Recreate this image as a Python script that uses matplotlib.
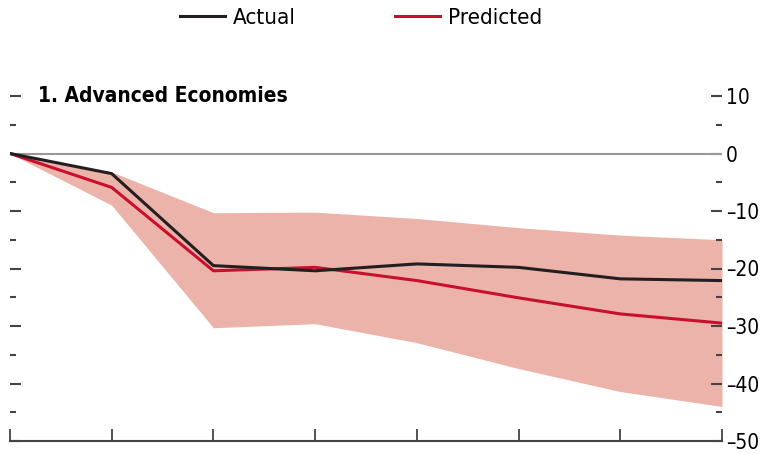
import numpy as np
import matplotlib
matplotlib.use("Agg")
import matplotlib.pyplot as plt
from matplotlib.ticker import MultipleLocator, FuncFormatter

plt.rcParams['font.family'] = ['Liberation Sans Narrow', 'DejaVu Sans']
plt.rcParams['font.stretch'] = 'condensed'

# data (8 periods, index 0..7)
periods = [0, 1, 2, 3, 4, 5, 6, 7]
actual = [0, -3.5, -19.5, -20.4, -19.2, -19.8, -21.8, -22.1]
predicted = [0, -5.9, -20.4, -19.8, -22.1, -25.1, -27.9, -29.5]
band_upper = [0, -3.2, -10.3, -10.2, -11.3, -12.9, -14.2, -15.0]
band_lower = [0, -9.0, -30.3, -29.6, -32.9, -37.4, -41.4, -44.0]

title = "1. Advanced Economies"

black = "#231f20"
red = "#c8102e"
band = "#ebb3a9"
tickcol = "#444444"

fig = plt.figure(figsize=(7.67, 4.54), dpi=100)
ax = fig.add_axes([10/767, 1 - 441/454, 712/767, 345/454])

ax.fill_between(periods, band_lower, band_upper, color=band, linewidth=0, zorder=1)
ax.axhline(0, color="#999999", lw=1.5, zorder=2)
ax.plot(periods, predicted, color=red, lw=2.2, zorder=3, label="Predicted")
ax.plot(periods, actual, color=black, lw=2.2, zorder=4, label="Actual")

ax.set_xlim(0, 7)
ax.set_ylim(-50, 10)

for s in ["top", "left", "right"]:
    ax.spines[s].set_visible(False)
ax.spines["bottom"].set_color(tickcol)
ax.spines["bottom"].set_linewidth(1.5)

ax.xaxis.set_major_locator(MultipleLocator(1))
ax.tick_params(axis="x", direction="in", length=9, width=1.3, color=tickcol,
               labelbottom=False)

ax.yaxis.set_major_locator(MultipleLocator(10))
ax.yaxis.set_minor_locator(MultipleLocator(5))
ax.yaxis.set_major_formatter(FuncFormatter(lambda v, p: f"{v:.0f}".replace("-", "\u2013")))
ax.tick_params(axis="y", which="both", direction="in", left=True, right=True,
               labelleft=False, labelright=True, color=tickcol, width=1.5,
               labelsize=15, pad=3)
ax.tick_params(axis="y", which="major", length=8)
ax.tick_params(axis="y", which="minor", length=4)

ax.text(28/712, 10, title, transform=ax.get_yaxis_transform(),
        fontsize=15, fontweight="bold", va="center", ha="left")

handles, labels = ax.get_legend_handles_labels()
fig.legend(handles[::-1], labels[::-1], ncol=2, loc="center",
           bbox_to_anchor=(361/767, 1 - 18/454), frameon=False, fontsize=16,
           handlelength=2.0, handletextpad=0.35, columnspacing=4.5)

fig.savefig("out.png", dpi=100)
